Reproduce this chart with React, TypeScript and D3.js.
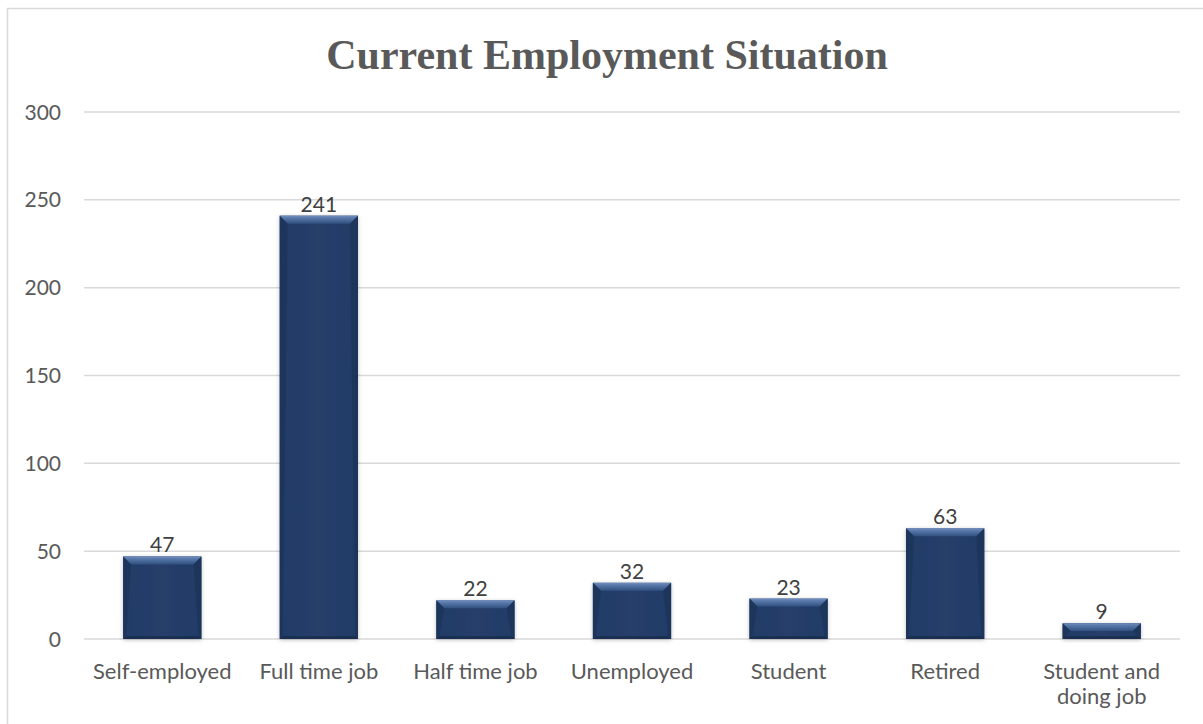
import React from "react";
import * as d3 from "d3";

const categories = ["Self-employed", "Full time job", "Half time job", "Unemployed", "Student", "Retired", "Student and doing job"];
const values = [47, 241, 22, 32, 23, 63, 9];
const yTicks = [0, 50, 100, 150, 200, 250, 300];
const title = "Current Employment Situation";

const W = 1203;
const H = 724;
const plot = { left: 84, right: 1180, top: 112, bottom: 639 };

function wrap(label: string, maxChars: number): string[] {
  const words = label.split(" ");
  const lines: string[] = [];
  let cur = "";
  for (const w of words) {
    const t = cur ? cur + " " + w : w;
    if (t.length > maxChars && cur) {
      lines.push(cur);
      cur = w;
    } else cur = t;
  }
  if (cur) lines.push(cur);
  return lines;
}

export default function App() {
  const x = d3
    .scaleBand<string>()
    .domain(categories)
    .range([plot.left, plot.right])
    .paddingInner(0.5)
    .paddingOuter(0.25);
  const y = d3.scaleLinear().domain([0, 300]).range([plot.bottom, plot.top]);
  const font = "Lato, 'Open Sans', sans-serif";

  return (
    <svg
      width={W}
      height={H}
      style={{ position: "absolute", left: 0, top: 0, background: "#fff" }}
    >
      <defs>
        <linearGradient id="topBevel" x1="0" y1="0" x2="0" y2="1">
          <stop offset="0" stopColor="#7290c0" />
          <stop offset="0.3" stopColor="#5878aa" />
          <stop offset="1" stopColor="#30507f" />
        </linearGradient>
        <linearGradient id="body" x1="0" y1="0" x2="1" y2="0">
          <stop offset="0" stopColor="#223b66" />
          <stop offset="0.5" stopColor="#263f6b" />
          <stop offset="1" stopColor="#223b66" />
        </linearGradient>
        <filter id="shadow" x="-20%" y="-20%" width="140%" height="140%">
          <feDropShadow dx="0" dy="1" stdDeviation="2" floodColor="#000" floodOpacity="0.25" />
        </filter>
      </defs>
      <rect x={0} y={0} width={W} height={H} fill="#fff" />
      <rect x={7.5} y={8.5} width={W + 20} height={H + 20} fill="none" stroke="#d9d9d9" strokeWidth={1.5} />

      <text
        x={607}
        y={69}
        textAnchor="middle"
        fontFamily="'Liberation Serif', 'Times New Roman', serif"
        fontWeight="bold"
        fontSize={42}
        fill="#595959"
      >
        {title}
      </text>

      {yTicks.map((t) => (
        <g key={t}>
          <line x1={plot.left} x2={plot.right} y1={y(t)} y2={y(t)} stroke="#d9d9d9" strokeWidth={1.5} />
          <text
            x={61}
            y={y(t)}
            dy="0.36em"
            textAnchor="end"
            fontFamily={font}
            fontSize={21}
            fill="#595959"
          >
            {t}
          </text>
        </g>
      ))}

      {categories.map((c, i) => {
        const bx = x(c)!;
        const bw = x.bandwidth();
        const by = y(values[i]);
        const bh = y(0) - by;
        const b = Math.min(8, bh / 2);
        const s = Math.min(3, bh / 4);
        return (
          <g key={c}>
            <rect x={bx} y={by} width={bw} height={bh} fill="url(#body)" filter="url(#shadow)" />
            <polygon
              points={`${bx},${by} ${bx + bw},${by} ${bx + bw - b},${by + b} ${bx + b},${by + b}`}
              fill="url(#topBevel)"
            />
            <polygon
              points={`${bx},${by} ${bx + b},${by + b} ${bx + s},${by + bh - s} ${bx},${by + bh}`}
              fill="#1d3459"
              opacity={0.8}
            />
            <polygon
              points={`${bx + bw},${by} ${bx + bw - b},${by + b} ${bx + bw - s},${by + bh - s} ${bx + bw},${by + bh}`}
              fill="#1d3459"
              opacity={0.8}
            />
            <polygon
              points={`${bx},${by + bh} ${bx + s},${by + bh - s} ${bx + bw - s},${by + bh - s} ${bx + bw},${by + bh}`}
              fill="#1a2f52"
            />
            <text
              x={bx + bw / 2}
              y={by - 4}
              textAnchor="middle"
              fontFamily={font}
              fontSize={21}
              fill="#404040"
            >
              {values[i]}
            </text>
            <text
              x={bx + bw / 2}
              y={679}
              textAnchor="middle"
              fontFamily={font}
              fontSize={22}
              fill="#595959"
            >
              {wrap(c, 14).map((ln, k) => (
                <tspan key={k} x={bx + bw / 2} dy={k === 0 ? 0 : 25}>
                  {ln}
                </tspan>
              ))}
            </text>
          </g>
        );
      })}
    </svg>
  );
}
